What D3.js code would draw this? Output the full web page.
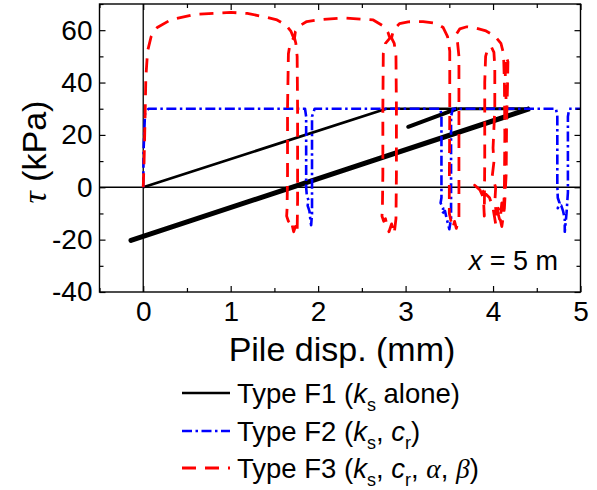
<!DOCTYPE html>
<html>
<head>
<meta charset="utf-8">
<script src="https://cdn.jsdelivr.net/npm/d3@7"></script>
<style>
  html, body { margin: 0; padding: 0; background: #fff; }
  svg { display: block; }
  text { font-family: "Liberation Sans", Arial, sans-serif; fill: #000; }
</style>
</head>
<body>
<svg id="chart" width="597" height="490"></svg>
<script>
// ---------------- data ----------------
const xDomain = [-0.5, 5];
const yDomain = [-40, 70];
const xMajorTicks = [0, 1, 2, 3, 4, 5];
const xMinorTicks = [-0.5, 0.5, 1.5, 2.5, 3.5, 4.5];
const yMajorTicks = [-40, -20, 0, 20, 40, 60];
const yMinorTicks = [-30, -10, 10, 30, 50, 70];

// Type F1 (ks alone)
const f1Loading = [[0, 0], [2.78, 30], [3.59, 30]];
const f1ShortCycle = [[3.59, 30], [3.03, 23.1], [3.59, 30]];
const f1Plastic = [[3.59, 30], [4.42, 30]];
const f1Cycle = [[4.42, 30], [-0.14, -20.3], [4.42, 30]];

// Type F2 (ks, cr)
const f2 = [[0,0],[0.005,15],[0.02,28],[0.06,30],[1.85,30],[1.863,27],[1.863,0],[1.87,-3],[1.89,-5],[1.88,-7],[1.90,-9],[1.91,-12],[1.92,-14.5],[1.93,-10],[1.93,27],[1.96,30],
  [3.40,30],[3.41,27],[3.41,-4],[3.40,-6],[3.43,-8],[3.42,-10],[3.45,-9],[3.47,-12],[3.50,-16],[3.52,-12],[3.52,27],[3.54,30],
  [4.72,30],[4.735,27],[4.735,1],[4.74,-4],[4.76,-6],[4.74,-8],[4.78,-7],[4.80,-9],[4.82,-12],[4.82,-17],[4.84,-10],[4.856,-2],[4.856,27],[4.87,30],[5.0,30]];

// Type F3 (ks, cr, alpha, beta)
const f3 = [[0,0],[0.01,10],[0.02,25],[0.03,42],[0.05,52],[0.09,57.5],[0.16,61],[0.31,63.9],[0.58,66],[1.0,66.8],[1.19,66.4],[1.4,65],[1.53,63.9],[1.63,62],[1.69,59.5],[1.72,57],
  [1.68,55],[1.66,51],[1.65,30],[1.65,5],[1.645,-8],[1.64,-11],[1.66,-13],[1.68,-12],[1.70,-14],[1.72,-17],[1.74,-15],[1.76,-17.5],[1.765,-5],[1.765,30],[1.76,50],[1.745,55],[1.73,57],[1.74,59.5],[1.78,61.5],[1.87,63.3],[1.99,63.9],[2.29,64.7],[2.63,63.9],[2.75,61.5],[2.80,59],[2.82,57],
  [2.77,55],[2.745,51],[2.74,30],[2.74,5],[2.735,-8],[2.73,-11],[2.75,-13],[2.77,-12],[2.79,-15],[2.81,-17],[2.84,-14],[2.87,-17.7],[2.89,-12],[2.895,5],[2.895,30],[2.89,50],[2.87,55],[2.84,57],[2.86,60],[2.93,62.5],[3.03,63.2],[3.2,63.3],[3.35,62.6],[3.43,61],[3.48,57.5],[3.505,52],
  [3.505,30],[3.50,0],[3.50,-10],[3.52,-13],[3.54,-15.5],[3.56,-13],[3.58,-15.7],[3.61,-12],[3.61,30],[3.61,50],[3.595,55],[3.58,58.5],[3.62,60.5],[3.70,61.3],[3.80,60.8],[3.92,59.7],[4.02,57.8],[4.09,55],[4.12,51],[4.13,40],[4.135,20],[4.13,0],[4.12,-10],[4.10,-6],[4.08,-13],[4.05,-9],[4.03,-14],[4.0,-8],[3.96,-4],[3.90,-2],[3.84,0],[3.79,0.8],[3.85,-1],[3.89,-4],[3.90,-11],
  [3.905,10],[3.905,40],[3.915,50],[3.94,53],[3.98,53.7],[4.01,51.5],[4.02,46],[4.02,30],[4.0,15],[4.01,9.7],[3.99,4],[4.03,0],[4.02,-6],[4.04,-10],[4.06,-8],[4.08,-12],[4.1,-15],[4.13,-8],[4.15,5],[4.155,25],[4.165,38],[4.17,48],[4.15,50],[4.14,43],[4.15,32]];

// ---------------- layout ----------------
const svg = d3.select("#chart");
svg.append("rect").attr("width", 597).attr("height", 490).attr("fill", "#fff");
const L = 99.5, R = 580.5, T = 4, B = 292;
const x = d3.scaleLinear().domain(xDomain).range([L, R]);
const y = d3.scaleLinear().domain(yDomain).range([B, T]);

svg.append("clipPath").attr("id", "clip")
  .append("rect").attr("x", L).attr("y", T).attr("width", R - L).attr("height", B - T);

// zero lines
svg.append("line").attr("x1", x(0)).attr("x2", x(0)).attr("y1", T).attr("y2", B)
  .attr("stroke", "#000").attr("stroke-width", 1.3);
svg.append("line").attr("x1", L).attr("x2", R).attr("y1", y(0)).attr("y2", y(0))
  .attr("stroke", "#000").attr("stroke-width", 1.3);

const line = d3.line().x(d => x(d[0])).y(d => y(d[1]));
const plot = svg.append("g").attr("clip-path", "url(#clip)");

const redDash = "14,9";
const blueDash = "10,3.5,2.5,3.5";

// F1
plot.append("path").datum(f1Loading).attr("d", line).attr("fill", "none").attr("stroke", "#000").attr("stroke-width", 2.7).attr("stroke-linejoin", "round");
plot.append("path").datum(f1Plastic).attr("d", line).attr("fill", "none").attr("stroke", "#000").attr("stroke-width", 2.8);
plot.append("path").datum(f1ShortCycle).attr("d", line).attr("fill", "none").attr("stroke", "#000").attr("stroke-width", 4).attr("stroke-linejoin", "round");
plot.append("path").datum(f1Cycle).attr("d", line).attr("fill", "none").attr("stroke", "#000").attr("stroke-width", 5).attr("stroke-linejoin", "round");

// F2
plot.append("path").datum(f2).attr("d", line).attr("fill", "none").attr("stroke", "#0000ff")
  .attr("stroke-width", 2.6).attr("stroke-dasharray", blueDash).attr("stroke-linejoin", "round");

// F3
plot.append("path").datum(f3).attr("d", line).attr("fill", "none").attr("stroke", "#ff0000")
  .attr("stroke-width", 2.8).attr("stroke-dasharray", redDash).attr("stroke-linejoin", "round");

// ---------------- axes ----------------
const tickFont = 28;
const fmt = d => String(d);
function styleAxis(g) {
  g.select(".domain").remove();
  g.selectAll(".tick line").attr("stroke", "#000").attr("stroke-width", 1.2);
  g.selectAll("text").style("font-size", tickFont + "px").style("font-family", "Liberation Sans, Arial, sans-serif");
}
svg.append("g").attr("transform", `translate(0,${B})`)
  .call(d3.axisBottom(x).tickValues(xMajorTicks).tickSize(-6).tickPadding(9).tickFormat(fmt)).call(styleAxis);
svg.append("g").attr("transform", `translate(0,${B})`)
  .call(d3.axisBottom(x).tickValues(xMinorTicks).tickSize(-4).tickFormat("")).call(styleAxis);
svg.append("g").attr("transform", `translate(0,${T})`)
  .call(d3.axisTop(x).tickValues(xMajorTicks).tickSize(-6).tickFormat("")).call(styleAxis);
svg.append("g").attr("transform", `translate(0,${T})`)
  .call(d3.axisTop(x).tickValues(xMinorTicks).tickSize(-4).tickFormat("")).call(styleAxis);
svg.append("g").attr("transform", `translate(${L},0)`)
  .call(d3.axisLeft(y).tickValues(yMajorTicks).tickSize(-6).tickPadding(7).tickFormat(fmt)).call(styleAxis);
svg.append("g").attr("transform", `translate(${L},0)`)
  .call(d3.axisLeft(y).tickValues(yMinorTicks).tickSize(-4).tickFormat("")).call(styleAxis);
svg.append("g").attr("transform", `translate(${R},0)`)
  .call(d3.axisRight(y).tickValues(yMajorTicks).tickSize(-6).tickFormat("")).call(styleAxis);
svg.append("g").attr("transform", `translate(${R},0)`)
  .call(d3.axisRight(y).tickValues(yMinorTicks).tickSize(-4).tickFormat("")).call(styleAxis);

// frame
svg.append("rect").attr("x", L).attr("y", T).attr("width", R - L).attr("height", B - T)
  .attr("fill", "none").attr("stroke", "#000").attr("stroke-width", 1.4);

// titles
svg.append("text").attr("x", (L + R) / 2 + 2).attr("y", 361).attr("text-anchor", "middle")
  .style("font-size", "34px").text("Pile disp. (mm)");
const yt = svg.append("text").attr("transform", `translate(46,${(T + B) / 2 + 4}) rotate(-90)`)
  .attr("text-anchor", "middle").style("font-size", "34px");
yt.append("tspan").style("font-family", "Liberation Serif, serif").style("font-style", "italic").text("τ");
yt.append("tspan").text(" (kPa)");

// annotation
const ann = svg.append("text").attr("x", 558).attr("y", 270).attr("text-anchor", "end").style("font-size", "27px");
ann.append("tspan").style("font-style", "italic").text("x");
ann.append("tspan").text(" = 5 m");

// ---------------- legend ----------------
const legendRows = [
  { stroke: "#000", dash: null, width: 2.6, y: 393 },
  { stroke: "#0000ff", dash: blueDash, width: 2.6, y: 431 },
  { stroke: "#ff0000", dash: redDash, width: 2.8, y: 468 }
];
legendRows.forEach(r => {
  svg.append("line").attr("x1", 182).attr("x2", 230).attr("y1", r.y).attr("y2", r.y)
    .attr("stroke", r.stroke).attr("stroke-width", r.width).attr("stroke-dasharray", r.dash);
});
const lf = 27.5, sub = 18, sd = 8;
// row 1
let t = svg.append("text").attr("x", 237).attr("y", 403).style("font-size", lf + "px");
t.append("tspan").text("Type F1 (");
t.append("tspan").style("font-style", "italic").text("k");
t.append("tspan").attr("dy", sd).style("font-size", sub + "px").text("s");
t.append("tspan").attr("dy", -sd).text(" alone)");
// row 2
t = svg.append("text").attr("x", 237).attr("y", 441).style("font-size", lf + "px");
t.append("tspan").text("Type F2 (");
t.append("tspan").style("font-style", "italic").text("k");
t.append("tspan").attr("dy", sd).style("font-size", sub + "px").text("s");
t.append("tspan").attr("dy", -sd).text(", ");
t.append("tspan").style("font-style", "italic").text("c");
t.append("tspan").attr("dy", sd).style("font-size", sub + "px").text("r");
t.append("tspan").attr("dy", -sd).text(")");
// row 3
t = svg.append("text").attr("x", 237).attr("y", 478).style("font-size", lf + "px");
t.append("tspan").text("Type F3 (");
t.append("tspan").style("font-style", "italic").text("k");
t.append("tspan").attr("dy", sd).style("font-size", sub + "px").text("s");
t.append("tspan").attr("dy", -sd).text(", ");
t.append("tspan").style("font-style", "italic").text("c");
t.append("tspan").attr("dy", sd).style("font-size", sub + "px").text("r");
t.append("tspan").attr("dy", -sd).text(", ");
t.append("tspan").style("font-style", "italic").style("font-family", "Liberation Serif, serif").text("α");
t.append("tspan").text(", ");
t.append("tspan").style("font-style", "italic").style("font-family", "Liberation Serif, serif").text("β");
t.append("tspan").text(")");
</script>
</body>
</html>
